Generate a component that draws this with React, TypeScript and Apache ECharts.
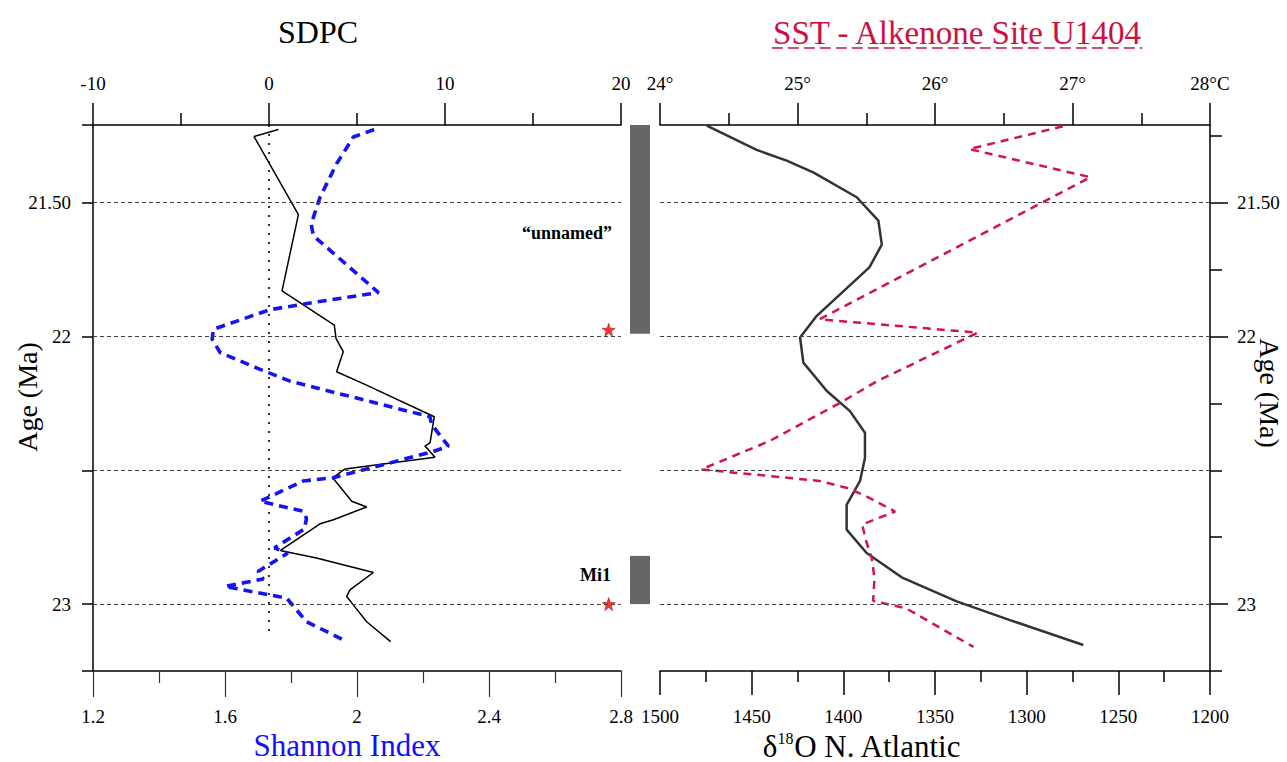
import React, { useEffect, useRef } from "react";
import * as echarts from "echarts";

// ---------------- DATA ----------------
// [SDPC value, age Ma]
const sdpc: number[][] = [
  [0.53, 21.227], [-0.85, 21.253], [1.67, 21.545], [0.74, 21.83], [3.71, 21.958],
  [3.81, 22.008], [4.22, 22.057], [3.84, 22.132], [5.45, 22.179], [9.39, 22.3],
  [9.15, 22.398], [8.86, 22.41], [9.05, 22.422], [9.43, 22.451], [4.32, 22.495],
  [3.62, 22.528], [4.7, 22.616], [5.55, 22.637], [3.66, 22.685], [2.9, 22.7],
  [0.63, 22.8], [2.7, 22.828], [5.93, 22.882], [4.6, 22.947], [4.41, 22.972],
  [4.79, 23.003], [5.55, 23.066], [6.91, 23.14],
];
// [Shannon index, age Ma]
const shannon: number[][] = [
  [2.052, 21.227], [1.989, 21.255], [1.938, 21.355], [1.888, 21.48], [1.861, 21.58],
  [1.868, 21.624], [2.065, 21.836], [1.868, 21.873], [1.736, 21.9], [1.565, 21.973],
  [1.561, 22.01], [1.585, 22.06], [1.706, 22.123], [1.797, 22.167], [2.221, 22.3],
  [2.226, 22.329], [2.277, 22.41], [2.231, 22.43], [1.928, 22.528], [1.837, 22.54],
  [1.706, 22.616], [1.837, 22.653], [1.847, 22.68], [1.84, 22.72], [1.75, 22.79],
  [1.79, 22.81], [1.7, 22.878], [1.716, 22.906], [1.6, 22.934], [1.787, 22.978],
  [1.847, 23.066], [1.969, 23.14],
];
// [SST °C, age Ma]
const sst: number[][] = [
  [26.93, 21.215], [26.25, 21.3], [27.13, 21.405], [25.16, 21.936], [26.31, 21.986],
  [25.58, 22.167], [25.31, 22.248], [24.8, 22.39], [24.3, 22.497], [24.73, 22.518],
  [25.16, 22.54], [25.36, 22.566], [25.5, 22.597], [25.71, 22.654], [25.47, 22.703],
  [25.5, 22.766], [25.54, 22.828], [25.56, 22.903], [25.55, 22.988], [25.79, 23.016],
  [26.28, 23.16],
];
// [d18O N. Atlantic, age Ma]
const d18o: number[][] = [
  [1474.5, 21.212], [1447.3, 21.303], [1430.9, 21.343], [1416.4, 21.387], [1392.7, 21.48],
  [1380.9, 21.567], [1379, 21.657], [1385.8, 21.742], [1414.5, 21.923], [1423.6, 22.004],
  [1421.8, 22.098], [1409, 22.204], [1396.4, 22.279], [1388.2, 22.36], [1388.2, 22.454],
  [1390.9, 22.54], [1398.2, 22.629], [1398.2, 22.722], [1387.3, 22.809], [1368.2, 22.9],
  [1338.2, 22.99], [1309.1, 23.06], [1269.1, 23.153],
];
const refAges = [21.5, 22, 22.5, 23];
const zeroLine: number[][] = [[0, 21.21], [0, 23.115]];
const eventBars: number[][] = [[0, 21.21, 21.99], [0, 22.82, 23.0]];
const stars: number[][] = [[19.3, 21.975], [19.3, 23.0]];
const ageMin = 21.21;
const ageMax = 23.25;
const leftTicks = [21.21, 21.5, 22, 22.5, 23, 23.25];
const leftLabels = [21.5, 22, 23];
const rightMinorTicks = [21.25, 21.75, 22.25, 22.5, 22.75, 23.25];
const rightMajorTicks = [21.5, 22, 23];

const FONT = "'Liberation Serif', 'Times New Roman', serif";
const STAR = "path://M50 0 L61.8 35.1 L98.1 35.1 L68.8 56.8 L79.4 91.4 L50 70 L20.6 91.4 L31.2 56.8 L1.9 35.1 L38.2 35.1 Z";
const ageFmt = (v: number) => (Math.abs(v - 21.5) < 1e-6 ? "21.50" : String(Math.round(v * 100) / 100));

function measure(text: string, font: string) {
  const c = document.createElement("canvas").getContext("2d");
  if (!c) return text.length * 14;
  c.font = font;
  return c.measureText(text).width;
}

export default function App() {
  const ref = useRef<HTMLDivElement>(null);
  useEffect(() => {
    if (!ref.current) return;
    const chart = echarts.init(ref.current, undefined, { renderer: "svg" });
    const black = { color: "#000", width: 1.5 };
    const lbl = { color: "#000", fontSize: 19, fontFamily: FONT };
    const refLine = {
      silent: true,
      symbol: ["none", "none"],
      label: { show: false },
      emphasis: { disabled: true },
      lineStyle: { type: [4, 3], color: "#444", width: 1 },
      data: refAges.map((a) => ({ yAxis: a })),
    };
    const sstFont = `33px ${FONT}`;
    const sstTitle = "SST - Alkenone Site U1404";
    const sstW = measure(sstTitle, sstFont);
    const sstCx = 957;

    chart.setOption({
      animation: false,
      backgroundColor: "#fff",
      grid: [
        { left: 93, top: 125, width: 528, height: 546, outerBoundsMode: "none" },
        { left: 660, top: 125, width: 550, height: 546, outerBoundsMode: "none" },
        { left: 630, top: 125, width: 20, height: 546, outerBoundsMode: "none" },
      ],
      xAxis: [
        {
          gridIndex: 0, type: "value", position: "top", min: -10, max: 20, interval: 10,
          axisLine: { show: true, onZero: false, lineStyle: black },
          axisTick: { show: true, length: 22, lineStyle: black },
          minorTick: { show: true, splitNumber: 2, length: 12, lineStyle: black },
          axisLabel: { ...lbl, margin: 32, formatter: (v: number) => String(v) },
          splitLine: { show: false },
        },
        {
          gridIndex: 0, type: "value", position: "bottom", min: 1.2, max: 2.8, interval: 0.4,
          axisLine: { show: true, onZero: false, lineStyle: black },
          axisTick: { show: true, length: 26, lineStyle: { color: "#333", width: 1.2 } },
          minorTick: { show: true, splitNumber: 2, length: 12, lineStyle: { color: "#333", width: 1.2 } },
          axisLabel: { ...lbl, margin: 36, formatter: (v: number) => String(Math.round(v * 10) / 10) },
          splitLine: { show: false },
        },
        {
          gridIndex: 1, type: "value", position: "top", min: 24, max: 28, interval: 1,
          axisLine: { show: true, onZero: false, lineStyle: black },
          axisTick: { show: true, length: 22, lineStyle: black },
          minorTick: { show: true, splitNumber: 2, length: 12, lineStyle: black },
          axisLabel: { ...lbl, margin: 32, formatter: (v: number) => (v === 28 ? "28°C" : v + "°") },
          splitLine: { show: false },
        },
        {
          gridIndex: 1, type: "value", position: "bottom", min: 1200, max: 1500, interval: 50, inverse: true,
          axisLine: { show: true, onZero: false, lineStyle: black },
          axisTick: { show: true, length: 24, lineStyle: black },
          minorTick: { show: true, splitNumber: 2, length: 11, lineStyle: black },
          axisLabel: { ...lbl, margin: 36, formatter: (v: number) => String(v) },
          splitLine: { show: false },
        },
        { gridIndex: 2, type: "value", min: 0, max: 1, show: false },
      ],
      yAxis: [
        {
          gridIndex: 0, type: "value", position: "left", inverse: true, min: ageMin, max: ageMax,
          axisLine: { show: true, onZero: false, lineStyle: black },
          axisTick: { show: true, length: 11, customValues: leftTicks, lineStyle: black },
          axisLabel: { ...lbl, margin: 22, customValues: leftLabels, formatter: ageFmt },
          splitLine: { show: false },
        },
        {
          gridIndex: 1, type: "value", position: "right", inverse: true, min: ageMin, max: ageMax,
          axisLine: { show: true, onZero: false, lineStyle: black },
          axisTick: { show: true, length: 12, customValues: rightMinorTicks, lineStyle: black },
          axisLabel: { show: false },
          splitLine: { show: false },
        },
        {
          gridIndex: 1, type: "value", position: "right", inverse: true, min: ageMin, max: ageMax,
          axisLine: { show: false, onZero: false },
          axisTick: { show: true, length: 18, customValues: rightMajorTicks, lineStyle: black },
          axisLabel: { ...lbl, margin: 27, customValues: rightMajorTicks, formatter: ageFmt },
          splitLine: { show: false },
        },
        { gridIndex: 2, type: "value", inverse: true, min: ageMin, max: ageMax, show: false },
      ],
      series: [
        {
          type: "line", name: "SDPC", xAxisIndex: 0, yAxisIndex: 0, data: sdpc,
          showSymbol: false, lineStyle: { color: "#000", width: 1.5 }, markLine: refLine,
        },
        {
          type: "line", name: "zero", xAxisIndex: 0, yAxisIndex: 0, data: zeroLine,
          showSymbol: false, lineStyle: { color: "#000", width: 1.6, type: [2, 7] },
        },
        {
          type: "line", name: "Shannon", xAxisIndex: 1, yAxisIndex: 0, data: shannon,
          showSymbol: false, lineStyle: { color: "#1414f0", width: 3.6, type: [9, 6] },
        },
        {
          type: "scatter", name: "stars", xAxisIndex: 0, yAxisIndex: 0, data: stars,
          symbol: STAR, symbolSize: 13, itemStyle: { color: "#ff0000", borderColor: "#7a0000", borderWidth: 0.6 },
        },
        {
          type: "line", name: "d18O", xAxisIndex: 3, yAxisIndex: 1, data: d18o,
          showSymbol: false, lineStyle: { color: "#333", width: 2.5 }, markLine: refLine,
        },
        {
          type: "line", name: "SST", xAxisIndex: 2, yAxisIndex: 1, data: sst,
          showSymbol: false, lineStyle: { color: "#d3134b", width: 2.5, type: [8, 6] },
        },
        {
          type: "custom", name: "events", xAxisIndex: 4, yAxisIndex: 3, data: eventBars,
          encode: { x: 0, y: [1, 2] },
          renderItem: (params: any, api: any) => {
            const p1 = api.coord([0, api.value(1)]);
            const p2 = api.coord([1, api.value(2)]);
            return {
              type: "rect",
              shape: { x: p1[0], y: p1[1], width: p2[0] - p1[0], height: p2[1] - p1[1] },
              style: { fill: "#666" },
            };
          },
        },
      ],
      graphic: [
        { type: "text", x: 318, y: 32, style: { text: "SDPC", font: `32px ${FONT}`, fill: "#000", align: "center", verticalAlign: "middle" } },
        { type: "text", x: sstCx, y: 33, style: { text: sstTitle, font: sstFont, fill: "#cc1040", align: "center", verticalAlign: "middle" } },
        {
          type: "line", shape: { x1: sstCx - sstW / 2, y1: 48, x2: sstCx + sstW / 2, y2: 48 },
          style: { stroke: "#cc1040", lineWidth: 1.5, lineDash: [11, 5] },
        },
        { type: "text", x: 347, y: 745, style: { text: "Shannon Index", font: `31px ${FONT}`, fill: "#1010ff", align: "center", verticalAlign: "middle" } },
        {
          type: "text", x: 862, y: 746,
          style: {
            text: "δ{s|18}O N. Atlantic", font: `31px ${FONT}`, fill: "#000", align: "center", verticalAlign: "middle",
            rich: { s: { fontSize: 16, fontFamily: FONT, verticalAlign: "top", fill: "#000" } },
          },
        },
        { type: "text", x: 27, y: 397, rotation: Math.PI / 2, style: { text: "Age (Ma)", font: `28px ${FONT}`, fill: "#000", align: "center", verticalAlign: "middle" } },
        { type: "text", x: 1269, y: 393, rotation: -Math.PI / 2, style: { text: "Age (Ma)", font: `28px ${FONT}`, fill: "#000", align: "center", verticalAlign: "middle" } },
        { type: "text", x: 612, y: 233, style: { text: "“unnamed”", font: `bold 18px ${FONT}`, fill: "#000", align: "right", verticalAlign: "middle" } },
        { type: "text", x: 611, y: 575, style: { text: "Mi1", font: `bold 18px ${FONT}`, fill: "#000", align: "right", verticalAlign: "middle" } },
      ],
    });
    return () => chart.dispose();
  }, []);
  return (
    <div
      ref={ref}
      style={{ position: "absolute", left: 0, top: 0, width: 1287, height: 762, background: "#fff" }}
    />
  );
}
